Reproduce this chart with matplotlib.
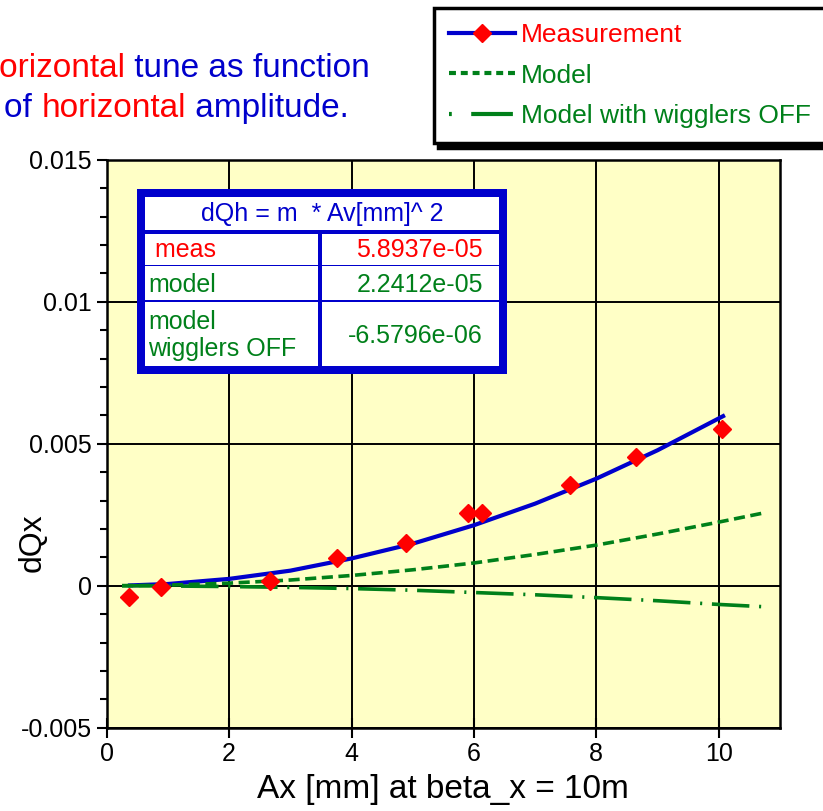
import matplotlib
matplotlib.use('Agg')
import matplotlib.pyplot as plt
from matplotlib.lines import Line2D
from matplotlib.patches import Rectangle
import numpy as np

plt.rcParams['font.family'] = ['Liberation Sans', 'DejaVu Sans']
plt.rcParams['lines.scale_dashes'] = False

W, H = 823, 811

BLUE = '#0000CC'
RED = '#FF0000'
GREEN = '#00801A'

# measured points
meas_x = [0.37, 0.89, 2.67, 3.77, 4.89, 5.90, 6.13, 7.57, 8.65, 10.06]
meas_y = [-0.00041, -0.00005, 0.00018, 0.00099, 0.00149, 0.00257, 0.00255, 0.00354, 0.00452, 0.00551]

# fit to measurement (blue line)
fit_x = [0.38, 1, 2, 3, 4, 5, 6, 7, 8, 9, 10.07]
fit_y = [0.00001, 0.00006, 0.00024, 0.00053, 0.00096, 0.00148, 0.00213, 0.00289, 0.00377, 0.00477, 0.00597]

# model curves
model_x = [0.25, 1, 2, 3, 4, 5, 6, 7, 8, 9, 10, 10.73]
model_y = [0.0, 0.00002, 0.00009, 0.0002, 0.00036, 0.00056, 0.0008, 0.0011, 0.00143, 0.00182, 0.00224, 0.00256]
off_y = [0.0, -0.00001, -0.00003, -0.00006, -0.0001, -0.00016, -0.00024, -0.00032, -0.00042, -0.00053, -0.00066, -0.00074]

xticks = [0, 2, 4, 6, 8, 10]
yticks = [-0.005, 0, 0.005, 0.01, 0.015]
ytick_labels = ['-0.005', '0', '0.005', '0.01', '0.015']

table_title = 'dQh = m  * Av[mm]^ 2'
table_rows = [(' meas', '5.8937e-05', RED),
              ('model', '2.2412e-05', GREEN),
              ('model\nwigglers OFF', '-6.5796e-06', GREEN)]


def fx(px):
    return px / W


def fy(py):
    return 1 - py / H


fig = plt.figure(figsize=(W / 100, H / 100), dpi=100)
ax = fig.add_axes([fx(106.7), fy(727.7), (780 - 106.7) / W, (727.7 - 159.7) / H])
ax.set_facecolor('#FFFFC6')

ax.plot(fit_x, fit_y, color=BLUE, lw=3, zorder=3)
ax.plot(meas_x, meas_y, ls='none', marker='D', ms=9.5, mfc=RED, mec=RED, zorder=4)
ax.plot(model_x, model_y, color=GREEN, lw=2.6, ls=(0, (8, 4)), zorder=3)
ax.plot(model_x, off_y, color=GREEN, lw=2.6, ls=(0, (27, 7, 1.5, 7)), zorder=3)

ax.set_xlim(0, 11)
ax.set_ylim(-0.005, 0.015)
ax.set_xticks(xticks)
ax.set_xticklabels([str(t) for t in xticks])
ax.set_yticks(yticks)
ax.set_yticklabels(ytick_labels)
ax.set_yticks(np.arange(-0.005, 0.0151, 0.001), minor=True)
ax.tick_params(axis='x', which='major', direction='inout', length=14, width=1.5, labelsize=18, pad=3)
ax.tick_params(axis='y', which='major', direction='out', length=7.5, width=1.5, labelsize=18, pad=3)
ax.tick_params(axis='y', which='minor', direction='out', length=5, width=1.5)
ax.grid(True, which='major', color='black', lw=1.4)
ax.set_axisbelow(True)
for s in ax.spines.values():
    s.set_linewidth(1.8)

ax.set_xlabel('Ax [mm] at beta_x = 10m', fontsize=24, labelpad=6)
ax.set_ylabel('dQx', fontsize=23, va='center')
ax.yaxis.set_label_coords((33 - 106.7) / (780 - 106.7), (727.7 - 543) / 568)

# legend
h_meas = Line2D([], [], color=BLUE, lw=3, marker='D', ms=9.5, mfc=RED, mec=RED)
h_model = Line2D([], [], color=GREEN, lw=3, ls=(0, (5, 3.5)))
h_off = Line2D([], [], color=GREEN, lw=3, ls=(0, (2, 14, 30, 7)))
leg = fig.legend([h_meas, h_model, h_off], ['Measurement', 'Model', 'Model with wigglers OFF'],
                 loc='upper left', bbox_to_anchor=(fx(434), fy(8)), fontsize=19,
                 labelcolor=[RED, GREEN, GREEN], numpoints=1,
                 handlelength=2.5, handletextpad=0.2, borderpad=0.58, labelspacing=0.62,
                 borderaxespad=0, fancybox=False, framealpha=1, edgecolor='black',
                 shadow={'ox': 3, 'oy': -3, 'color': 'black', 'alpha': 1})
leg.get_frame().set_linewidth(2.5)

# table box
def rect(x0, y0, x1, y1, color):
    fig.add_artist(Rectangle((fx(x0), fy(y1)), fx(x1) - fx(x0), fy(y0) - fy(y1),
                             transform=fig.transFigure, facecolor=color, edgecolor='none', zorder=10))

rect(137, 189, 507, 374, BLUE)
rect(145, 197, 499, 230, 'white')
rect(145, 234, 318, 366, 'white')
rect(322, 234, 499, 366, 'white')
rect(145, 264.5, 499, 266, BLUE)
rect(145, 300, 499, 302, BLUE)

fig.text(fx(322), fy(214), table_title, color=BLUE, fontsize=18, ha='center', va='center', zorder=11)
row_y = [250, 285.5, 335.5]
for (lab, val, col), yy in zip(table_rows, row_y):
    fig.text(fx(148), fy(yy), lab, color=col, fontsize=18, ha='left', va='center',
             linespacing=1.15, zorder=11)
    fig.text(fx(483), fy(yy), val, color=col, fontsize=18, ha='right', va='center', zorder=11)

# title in two colours
renderer = fig.canvas.get_renderer()


def text_width(s, size):
    t = fig.text(0, 0, s, fontsize=size)
    w = t.get_window_extent(renderer).width
    t.remove()
    return w


def colored_line(x0, y0, parts, size):
    prefix = ''
    for s, c in parts:
        dx = 0
        if prefix:
            dx = text_width(prefix + 'x', size) - text_width('x', size)
        fig.text(fx(x0 + dx), fy(y0), s, color=c, fontsize=size, ha='left', va='baseline')
        prefix += s


colored_line(-25, 77, [('Horizontal', RED), (' tune as function', BLUE)], 24)
colored_line(4, 117, [('of ', BLUE), ('horizontal', RED), (' amplitude.', BLUE)], 24)

fig.savefig('out.png', dpi=100)
